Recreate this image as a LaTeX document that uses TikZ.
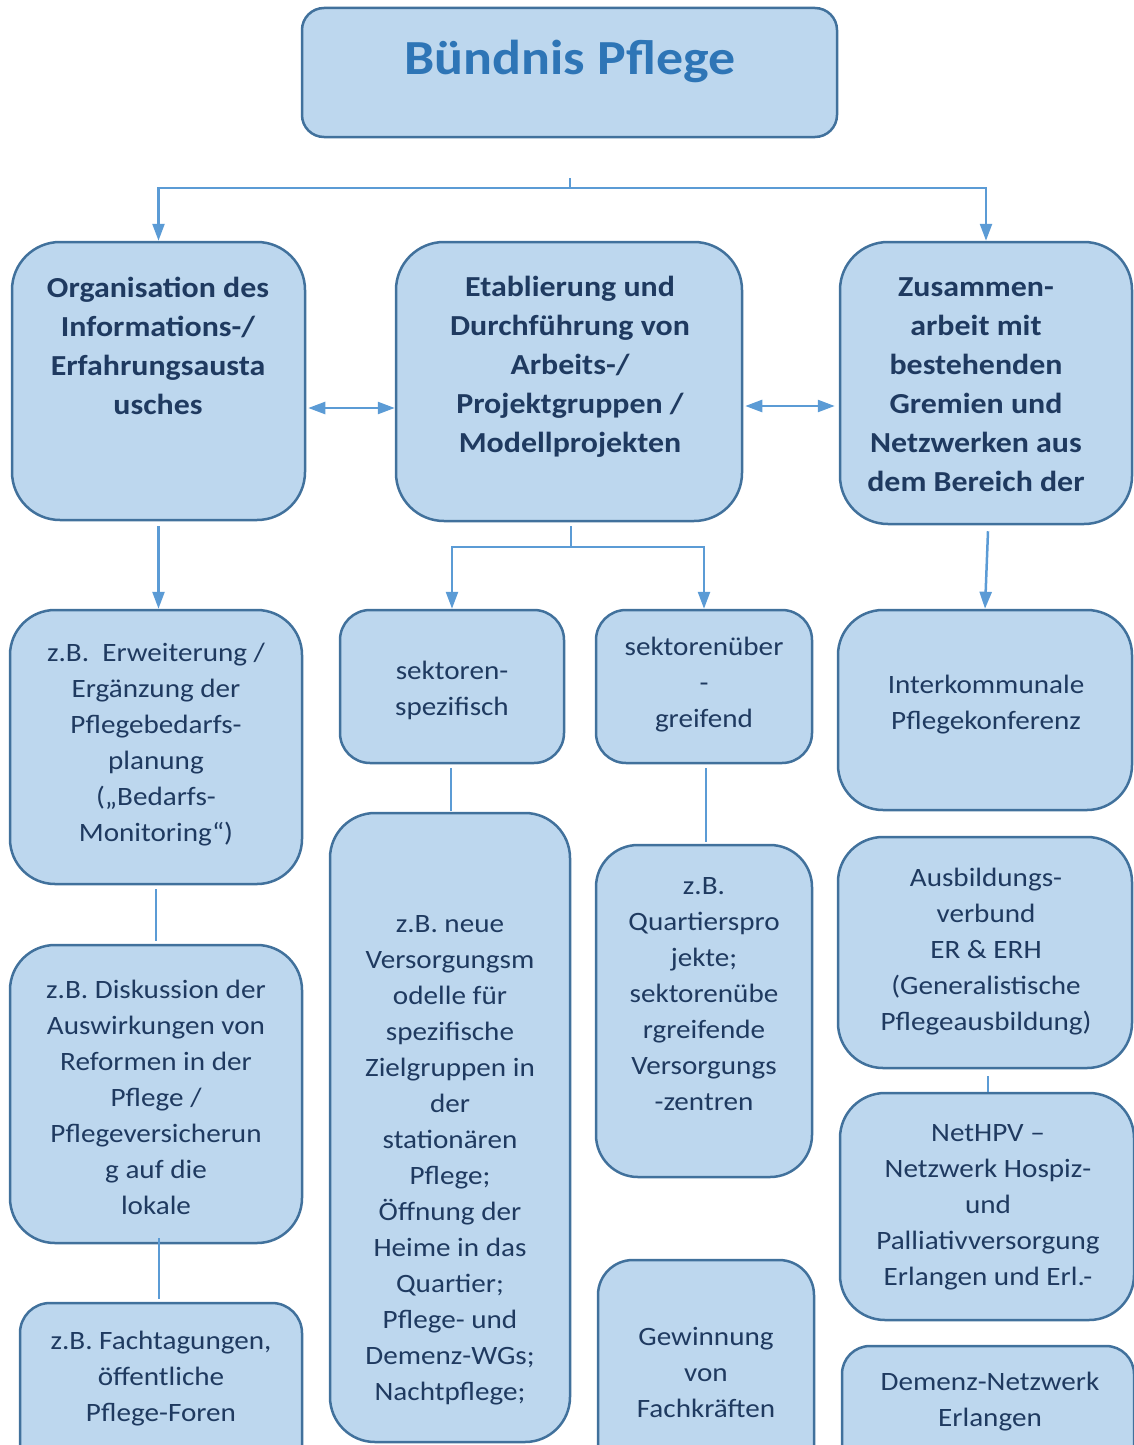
\documentclass[tikz,border=0pt]{standalone}
\usepackage{fontspec}
\setmainfont{Carlito}[FakeStretch=1.1]
\usetikzlibrary{arrows.meta,calc}
\definecolor{fillc}{HTML}{BDD7EE}
\definecolor{bordc}{HTML}{41719C}
\definecolor{linec}{HTML}{5B9BD5}
\definecolor{txtc}{HTML}{1F3A60}
\definecolor{titlec}{HTML}{2E75B6}
\tikzset{
  box/.style={draw=bordc, fill=fillc, line width=2.5pt, rounded corners=#1, inner sep=0pt, shape=rectangle},
  box/.default=45pt,
  bodytxt/.style={text=txtc, align=center, inner sep=0pt, yshift=-2.5pt, font={\fontsize{26.5}{36}\selectfont}},
  headtxt/.style={text=txtc, align=center, inner sep=0pt, yshift=-1.5pt, font={\fontsize{29}{39}\selectfont\bfseries}},
  conn/.style={draw=linec, line width=2.5pt},
  arr/.style={conn, -{Triangle[length=17pt,width=12pt]}},
  darr/.style={conn, {Triangle[length=17pt,width=12pt]}-{Triangle[length=17pt,width=12pt]}},
  thin/.style={draw=linec, line width=1.1pt}
}
\begin{document}
\begin{tikzpicture}[x=1pt,y=-1pt]
\useasboundingbox (0,0) rectangle (1134,1445);
% boxes
\node[box=22pt, minimum width=535pt, minimum height=129pt] (T) at (569.5,72.5) {};
\node[box=48pt, minimum width=293pt, minimum height=278pt] (A) at (158.5,381) {};
\node[box=48pt, minimum width=346pt, minimum height=279pt] (B) at (569,381.5) {};
\node[box=48pt, minimum width=292pt, minimum height=282pt] (C) at (986,383) {};
\node[box=45pt, minimum width=292pt, minimum height=274pt] (L1) at (156,747) {};
\node[box=45pt, minimum width=292pt, minimum height=298pt] (L2) at (156,1094) {};
\node[box=30pt, minimum width=282pt, minimum height=177pt] (L3) at (161,1391.5) {};
\node[box=30pt, minimum width=224pt, minimum height=153pt] (M1) at (452,686.5) {};
\node[box=45pt, minimum width=240pt, minimum height=629pt] (M2) at (450,1127.5) {};
\node[box=30pt, minimum width=216pt, minimum height=153pt] (R1) at (704,686.5) {};
\node[box=42pt, minimum width=216pt, minimum height=332pt] (R2) at (704,1011) {};
\node[box=35pt, minimum width=216pt, minimum height=220pt] (R3) at (706,1370) {};
\node[box=45pt, minimum width=294pt, minimum height=200pt] (C1) at (985,710) {};
\node[box=45pt, minimum width=294pt, minimum height=231pt] (C2) at (985,952.5) {};
\node[box=45pt, minimum width=294pt, minimum height=227pt] (C3) at (987,1206.5) {};
\node[box=28pt, minimum width=292pt, minimum height=134pt] (C4) at (988,1413) {};
% texts
\node[text=titlec, inner sep=0pt, font={\fontsize{49}{55}\selectfont\bfseries}] (tT) at (570,61) {Bündnis Pflege};
\node[headtxt] (tA) at (158,344.5) {Organisation des\\Informations-/\\Erfahrungsausta\\usches};
\node[headtxt] (tB) at (570,365) {Etablierung und\\Durchführung von\\Arbeits-/\\Projektgruppen /\\Modellprojekten};
\node[headtxt] (tC) at (976,383.5) {Zusammen-\\arbeit mit\\bestehenden\\Gremien und\\Netzwerken aus\\dem Bereich der};
\node[bodytxt] (tL1) at (156,742) {z.B.\ \ Erweiterung /\\Ergänzung der\\Pflegebedarfs-\\planung\\(„Bedarfs-\\Monitoring“)};
\node[bodytxt] (tM1) at (452,688) {sektoren-\\spezifisch};
\node[bodytxt] (tR1) at (704,682) {sektorenüber\\-\\greifend};
\node[bodytxt] (tC1) at (986,702.5) {Interkommunale\\Pflegekonferenz};
\node[bodytxt] (tM2) at (450,1158) {z.B. neue\\Versorgungsm\\odelle für\\spezifische\\Zielgruppen in\\der\\stationären\\Pflege;\\Öffnung der\\Heime in das\\Quartier;\\Pflege- und\\Demenz-WGs;\\Nachtpflege;};
\node[bodytxt] (tR2) at (704,991.5) {z.B.\\Quartierspro\\jekte;\\sektorenübe\\rgreifende\\Versorgungs\\-zentren};
\node[bodytxt] (tC2) at (986,949) {Ausbildungs-\\verbund\\ER \& ERH\\(Generalistische\\Pflegeausbildung)};
\node[bodytxt] (tL2) at (156,1094.5) {z.B. Diskussion der\\Auswirkungen von\\Reformen in der\\Pflege /\\Pflegeversicherun\\g auf die\\lokale};
\node[bodytxt] (tC3) at (988,1205) {NetHPV –\\Netzwerk Hospiz-\\und\\Palliativversorgung\\Erlangen und Erl.-};
\node[bodytxt] (tL3) at (161,1376) {z.B. Fachtagungen,\\öffentliche\\Pflege-Foren};
\node[bodytxt] (tR3) at (706,1370) {Gewinnung\\von\\Fachkräften};
\node[bodytxt] (tC4) at (990,1399) {Demenz-Netzwerk\\Erlangen};
% connectors
\coordinate (j0) at (570,178);
\coordinate (j1) at (570,188);
\draw[conn] (j0) -- (j1);
\draw[arr] (j1) -| (A.north);
\draw[arr] (j1) -| (C.north);
\draw[darr] ($(A.east)+(2,27)$) -- ($(B.west)+(0,26.5)$);
\draw[darr] ($(B.east)+(2,24.5)$) -- ($(C.west)+(-4,23)$);
\draw[arr] ($(A.south)+(0,5)$) -- (A.south |- L1.north);
\coordinate (j2) at (571,547);
\draw[conn] ($(B.south)+(2,4)$) -- (j2);
\draw[arr] (j2) -| (M1.north);
\draw[arr] (j2) -| (R1.north);
\draw[arr] ($(C.south)+(2,6)$) -- (C1.north);
\draw[thin] ($(L1.south)+(0,4)$) -- ($(L2.north)+(0,-3)$);
\draw[thin] ($(L2.south)+(3,-6)$) -- ($(L3.north)+(-2,-3)$);
\draw[thin] ($(M1.south)+(-1,4)$) -- ($(M2.north)+(1,-1)$);
\draw[thin] ($(R1.south)+(2,4)$) -- ($(R2.north)+(2,-2)$);
\draw[thin] ($(C2.south)+(3,7)$) -- ($(C3.north)+(1,0)$);
\end{tikzpicture}
\end{document}
